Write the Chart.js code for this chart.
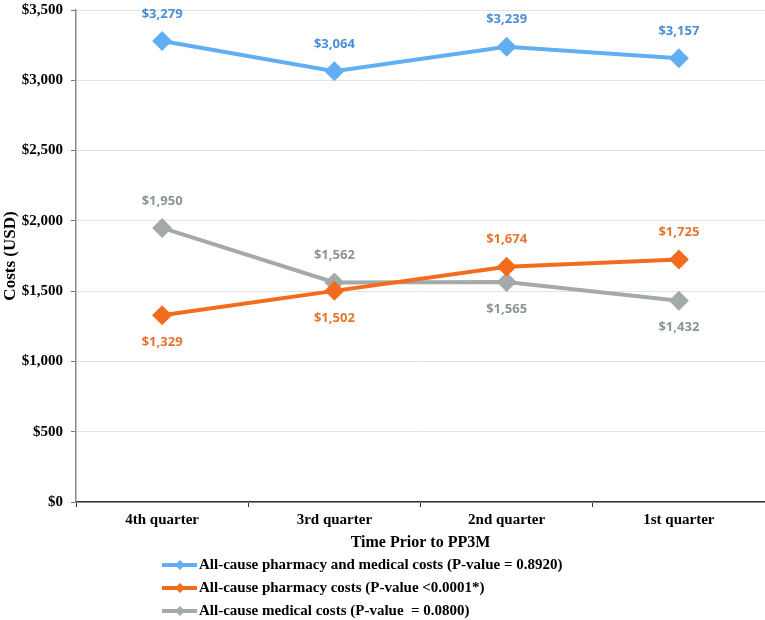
<!DOCTYPE html>
<html>
<head>
<meta charset="utf-8">
<script src="https://cdn.jsdelivr.net/npm/chart.js@4.4.0/dist/chart.umd.min.js"></script>
<style>
  html, body { margin: 0; padding: 0; background: #fff; overflow: hidden; }
  #wrap { width: 765px; height: 620px; }
</style>
</head>
<body>
<div id="wrap"><canvas id="costChart" width="765" height="620"></canvas></div>
<script>
// quarters before PP3M
var quarters = ['4th quarter', '3rd quarter', '2nd quarter', '1st quarter'];
var totalCosts = [3279, 3064, 3239, 3157];
var pharmacyCosts = [1329, 1502, 1674, 1725];
var medicalCosts = [1950, 1562, 1565, 1432];
// where each value label sits: -1 above the point, 1 below
var totalLabelSide = [-1, -1, -1, -1];
var pharmacyLabelSide = [1, 1, -1, -1];
var medicalLabelSide = [-1, -1, 1, 1];
var yTicks = [0, 500, 1000, 1500, 2000, 2500, 3000, 3500];

var serif = '"Liberation Serif", "Times New Roman", serif';

function money(v) {
    return '$' + v.toLocaleString('en-US');
}

// value labels next to each point
var valueLabels = {
    id: 'valueLabels',
    afterDatasetsDraw: function (chart) {
        var ctx = chart.ctx;
        ctx.save();
        ctx.font = 'bold 13px "Open Sans", sans-serif';
        ctx.textAlign = 'center';
        ctx.textBaseline = 'middle';
        chart.data.datasets.forEach(function (ds, i) {
            var meta = chart.getDatasetMeta(i);
            meta.data.forEach(function (pt, j) {
                ctx.fillStyle = ds.labelColor;
                ctx.fillText(money(ds.data[j]), pt.x, pt.y + ds.labelSide[j] * 27);
            });
        });
        ctx.restore();
    }
};

// legend stacked under the axis title, left aligned
var stackedLegend = {
    id: 'stackedLegend',
    afterDraw: function (chart) {
        var ctx = chart.ctx;
        ctx.save();
        ctx.font = 'bold 15px ' + serif;
        ctx.textBaseline = 'middle';
        ctx.textAlign = 'left';
        chart.data.datasets.forEach(function (ds, i) {
            var y = 565 + i * 23;
            ctx.strokeStyle = ds.borderColor;
            ctx.lineWidth = 4;
            ctx.beginPath();
            ctx.moveTo(162, y);
            ctx.lineTo(197, y);
            ctx.stroke();
            ctx.fillStyle = ds.borderColor;
            ctx.beginPath();
            ctx.moveTo(180, y - 5);
            ctx.lineTo(185, y);
            ctx.lineTo(180, y + 5);
            ctx.lineTo(175, y);
            ctx.closePath();
            ctx.fill();
            ctx.fillStyle = '#000';
            ctx.fillText(ds.label, 199, y);
        });
        ctx.restore();
    }
};

function series(label, data, color, labelColor, side) {
    return {
        label: label,
        data: data,
        borderColor: color,
        backgroundColor: color,
        borderWidth: 4,
        pointStyle: 'rectRot',
        pointRadius: 10,
        pointHoverRadius: 10,
        pointBorderWidth: 0,
        pointBackgroundColor: color,
        tension: 0,
        clip: false,
        labelColor: labelColor,
        labelSide: side
    };
}

var ctx = document.getElementById('costChart').getContext('2d');
var costChart = new Chart(ctx, {
    type: 'line',
    data: {
        labels: quarters,
        datasets: [
            series('All-cause pharmacy and medical costs (P-value = 0.8920)', totalCosts, '#62AEF3', '#4A8ED6', totalLabelSide),
            series('All-cause pharmacy costs (P-value <0.0001*)', pharmacyCosts, '#F36B1C', '#E8732F', pharmacyLabelSide),
            series('All-cause medical costs (P-value  = 0.0800)', medicalCosts, '#A2ABA9', '#8A9596', medicalLabelSide)
        ]
    },
    options: {
        responsive: false,
        animation: false,
        layout: { autoPadding: false, padding: { top: 10, right: 0, bottom: 68, left: 0 } },
        plugins: {
            legend: { display: false },
            tooltip: { enabled: false }
        },
        scales: {
            x: {
                offset: true,
                grid: {
                    offset: true,
                    drawOnChartArea: false,
                    drawTicks: true,
                    tickLength: 5,
                    color: '#333'
                },
                border: { color: '#333', width: 1.5 },
                ticks: {
                    color: '#000',
                    font: { family: serif, size: 15, weight: 'bold' },
                    padding: 4,
                    maxRotation: 0
                },
                title: {
                    display: true,
                    text: 'Time Prior to PP3M',
                    color: '#000',
                    font: { family: serif, size: 16, weight: 'bold' },
                    padding: { top: 2, bottom: 0 }
                },
                afterFit: function (scale) {
                    scale.height = 50;
                    scale.paddingLeft = 0;
                    scale.paddingRight = 0;
                }
            },
            y: {
                min: 0,
                max: 3500,
                afterBuildTicks: function (scale) {
                    scale.ticks = yTicks.map(function (v) { return { value: v }; });
                },
                grid: {
                    color: '#E2E4E4',
                    tickColor: '#777',
                    tickLength: 5,
                    lineWidth: 1
                },
                border: { color: '#888', width: 1.5 },
                ticks: {
                    color: '#000',
                    font: { family: serif, size: 15, weight: 'bold' },
                    padding: 8,
                    callback: function (v) { return money(v); }
                },
                title: {
                    display: true,
                    text: 'Costs (USD)',
                    color: '#000',
                    font: { family: serif, size: 17, weight: 'bold' },
                    padding: 0
                },
                afterFit: function (scale) {
                    scale.width = 76;
                    scale.paddingTop = 0;
                    scale.paddingBottom = 0;
                }
            }
        }
    },
    plugins: [valueLabels, stackedLegend]
});
</script>
</body>
</html>
